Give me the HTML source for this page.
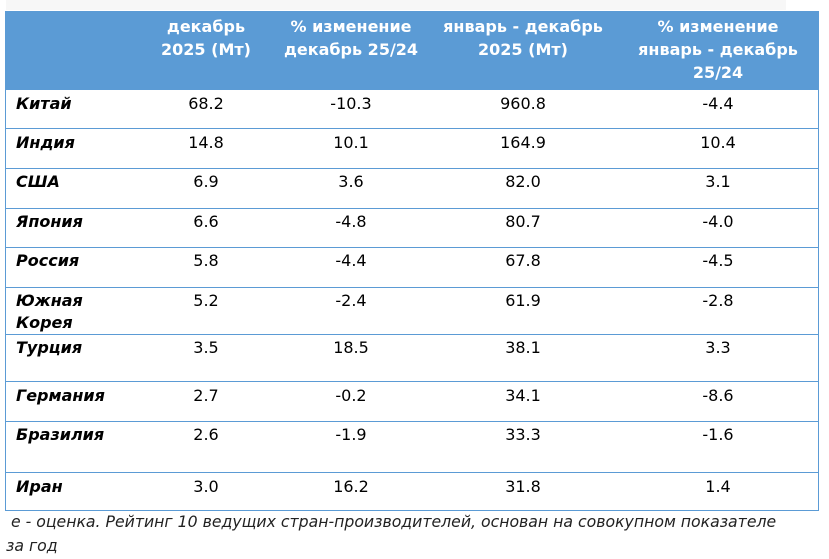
<!DOCTYPE html>
<html>
<head>
<meta charset="utf-8">
<style>
  html, body { margin:0; padding:0; background:#fff; }
  body { width:829px; height:559px; position:relative; overflow:hidden;
         font-family:"DejaVu Sans","Liberation Sans",sans-serif; color:#000; }
  .strip { position:absolute; left:6px; top:0; width:780px; height:10px; background:#f7f7f7; }
  .hdr { position:absolute; left:5px; top:11px; width:814px; height:79px; background:#5b9bd5; }
  .frame { position:absolute; left:5px; top:11px; width:812px; height:499px; border:1px solid #5b9bd5; border-top:none; }
  .hl { position:absolute; left:5px; width:814px; height:1px; background:#5b9bd5; }
  .h { position:absolute; width:220px; text-align:center; color:#fff; font-weight:bold; font-size:16px; line-height:23px; top:15px; white-space:nowrap; }
  .c { position:absolute; font-size:16px; line-height:22px; white-space:nowrap; }
  .n { width:120px; text-align:center; }
  .name { left:16px; font-weight:bold; font-style:italic; }
  .foot { position:absolute; left:6px; top:510px; font-size:15.7px; line-height:24px; font-style:italic; color:#222; white-space:nowrap; }
</style>
</head>
<body>
<div class="strip"></div>
<div class="hdr"></div>
<div class="frame"></div>

<div class="h" style="left:96px;">декабрь<br>2025 (Мт)</div>
<div class="h" style="left:241px;">% изменение<br>декабрь 25/24</div>
<div class="h" style="left:413px;">январь - декабрь<br>2025 (Мт)</div>
<div class="h" style="left:608px;">% изменение<br>январь - декабрь<br>25/24</div>

<div class="hl" style="top:128px;"></div>
<div class="hl" style="top:168px;"></div>
<div class="hl" style="top:208px;"></div>
<div class="hl" style="top:247px;"></div>
<div class="hl" style="top:287px;"></div>
<div class="hl" style="top:334px;"></div>
<div class="hl" style="top:381px;"></div>
<div class="hl" style="top:421px;"></div>
<div class="hl" style="top:472px;"></div>

<!-- Китай -->
<div class="c name" style="top:93px;">Китай</div>
<div class="c n" style="top:93px;left:146px;">68.2</div>
<div class="c n" style="top:93px;left:291px;">-10.3</div>
<div class="c n" style="top:93px;left:463px;">960.8</div>
<div class="c n" style="top:93px;left:658px;">-4.4</div>
<!-- Индия -->
<div class="c name" style="top:132px;">Индия</div>
<div class="c n" style="top:132px;left:146px;">14.8</div>
<div class="c n" style="top:132px;left:291px;">10.1</div>
<div class="c n" style="top:132px;left:463px;">164.9</div>
<div class="c n" style="top:132px;left:658px;">10.4</div>
<!-- США -->
<div class="c name" style="top:171px;">США</div>
<div class="c n" style="top:171px;left:146px;">6.9</div>
<div class="c n" style="top:171px;left:291px;">3.6</div>
<div class="c n" style="top:171px;left:463px;">82.0</div>
<div class="c n" style="top:171px;left:658px;">3.1</div>
<!-- Япония -->
<div class="c name" style="top:211px;">Япония</div>
<div class="c n" style="top:211px;left:146px;">6.6</div>
<div class="c n" style="top:211px;left:291px;">-4.8</div>
<div class="c n" style="top:211px;left:463px;">80.7</div>
<div class="c n" style="top:211px;left:658px;">-4.0</div>
<!-- Россия -->
<div class="c name" style="top:250px;">Россия</div>
<div class="c n" style="top:250px;left:146px;">5.8</div>
<div class="c n" style="top:250px;left:291px;">-4.4</div>
<div class="c n" style="top:250px;left:463px;">67.8</div>
<div class="c n" style="top:250px;left:658px;">-4.5</div>
<!-- Южная Корея -->
<div class="c name" style="top:290px;">Южная<br>Корея</div>
<div class="c n" style="top:290px;left:146px;">5.2</div>
<div class="c n" style="top:290px;left:291px;">-2.4</div>
<div class="c n" style="top:290px;left:463px;">61.9</div>
<div class="c n" style="top:290px;left:658px;">-2.8</div>
<!-- Турция -->
<div class="c name" style="top:337px;">Турция</div>
<div class="c n" style="top:337px;left:146px;">3.5</div>
<div class="c n" style="top:337px;left:291px;">18.5</div>
<div class="c n" style="top:337px;left:463px;">38.1</div>
<div class="c n" style="top:337px;left:658px;">3.3</div>
<!-- Германия -->
<div class="c name" style="top:385px;">Германия</div>
<div class="c n" style="top:385px;left:146px;">2.7</div>
<div class="c n" style="top:385px;left:291px;">-0.2</div>
<div class="c n" style="top:385px;left:463px;">34.1</div>
<div class="c n" style="top:385px;left:658px;">-8.6</div>
<!-- Бразилия -->
<div class="c name" style="top:424px;">Бразилия</div>
<div class="c n" style="top:424px;left:146px;">2.6</div>
<div class="c n" style="top:424px;left:291px;">-1.9</div>
<div class="c n" style="top:424px;left:463px;">33.3</div>
<div class="c n" style="top:424px;left:658px;">-1.6</div>
<!-- Иран -->
<div class="c name" style="top:476px;">Иран</div>
<div class="c n" style="top:476px;left:146px;">3.0</div>
<div class="c n" style="top:476px;left:291px;">16.2</div>
<div class="c n" style="top:476px;left:463px;">31.8</div>
<div class="c n" style="top:476px;left:658px;">1.4</div>

<div class="foot">&nbsp;е - оценка. Рейтинг 10 ведущих стран-производителей, основан на совокупном показателе<br>за год</div>
</body>
</html>
